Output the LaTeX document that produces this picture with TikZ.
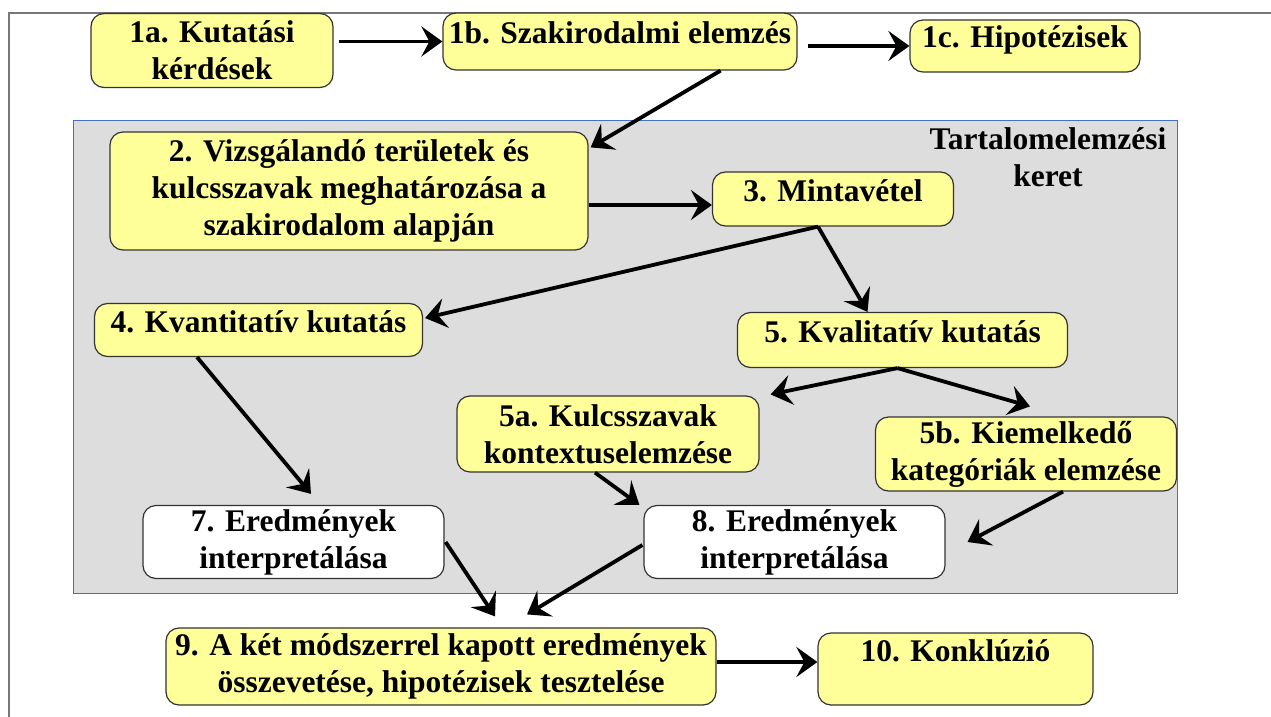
\documentclass[tikz,border=0pt]{standalone}
\usepackage{fontspec}
\setmainfont{Liberation Serif}
\usetikzlibrary{arrows.meta}
\definecolor{boxyellow}{HTML}{FFFF99}
\definecolor{framegray}{HTML}{DDDDDD}
\definecolor{frameblue}{HTML}{4472C4}
\definecolor{edgegray}{HTML}{333333}
\definecolor{pagegray}{HTML}{777777}
\begin{document}
\begin{tikzpicture}[x=1pt, y=-1pt,
    >={Stealth[length=21pt, width=30pt, inset=8pt]},
    box/.style={draw=edgegray, line width=1.2pt, rounded corners=13pt, fill=boxyellow,
      align=center, inner sep=0pt, font=\fontsize{31.5}{37}\selectfont\bfseries},
    single/.style={text height=0.7em, text depth=0.3em},
    whitebox/.style={box, fill=white},
    flow/.style={->, line width=3.8pt}]
  \useasboundingbox (0,0) rectangle (1271,717);
  % page frame and content analysis frame
  \draw[pagegray, line width=1.5pt] (9,740) -- (9,13) -- (1290,13);
  \node[draw=frameblue, fill=framegray, line width=1pt, inner sep=0pt,
    minimum width=1104pt, minimum height=473pt] (frame) at (625,356.5) {};
  \node[anchor=north, align=center, inner sep=0pt,
    font=\fontsize{31.5}{37}\selectfont\bfseries] (framelabel) at (1048,127) {Tartalomelemzési\\keret};

  % boxes
  \node[box, minimum width=242pt, minimum height=74pt] (kerdes) at (212,50.5) {1a. Kutatási\\kérdések};
  \node[box, single, minimum width=354pt, minimum height=57pt] (szakirod) at (620,41.5) {1b. Szakirodalmi elemzés};
  \node[box, single, minimum width=230pt, minimum height=52pt] (hipot) at (1025,46) {1c. Hipotézisek};
  \node[box, minimum width=478pt, minimum height=118pt] (vizsgal) at (349,191) {2. Vizsgálandó területek és\\kulcsszavak meghatározása a\\szakirodalom alapján};
  \node[box, single, minimum width=241pt, minimum height=54pt] (minta) at (833,199) {3. Mintavétel};
  \node[box, single, minimum width=328pt, minimum height=53pt] (kvanti) at (258.5,330) {4. Kvantitatív kutatás};
  \node[box, single, minimum width=330pt, minimum height=55pt] (kvali) at (902.5,340) {5. Kvalitatív kutatás};
  \node[box, minimum width=302pt, minimum height=76pt] (kulcs) at (608,434) {5a. Kulcsszavak\\kontextuselemzése};
  \node[box, minimum width=301pt, minimum height=74pt] (kiemel) at (1026,454) {5b. Kiemelkedő\\kategóriák elemzése};
  \node[whitebox, minimum width=301pt, minimum height=73pt] (ered7) at (293.5,542) {7. Eredmények\\interpretálása};
  \node[whitebox, minimum width=301pt, minimum height=73pt] (ered8) at (794.5,542) {8. Eredmények\\interpretálása};
  \node[box, minimum width=550pt, minimum height=77pt] (osszevet) at (441,666.5) {9. A két módszerrel kapott eredmények\\összevetése, hipotézisek tesztelése};
  \node[box, minimum width=275pt, minimum height=72pt] (konkl) at (955.5,669) {10. Konklúzió\\\mbox{}};

  % arrows
  \coordinate (m3in) at ([yshift=-6pt]minta.west);
  \coordinate (m3out) at ([xshift=-15pt]minta.south);
  \coordinate (k10in) at ([yshift=7pt]konkl.west);
  \draw[flow, shorten <=5pt] (kerdes.east |- szakirod) -- (szakirod.west);
  \draw[flow, shorten <=10pt] (szakirod.east |- hipot) -- (hipot.west);
  \draw[flow] ([xshift=-77pt]szakirod.south east) -- ([xshift=2pt, yshift=-16pt]vizsgal.north east);
  \draw[flow] (m3in -| vizsgal.east) -- (m3in);
  \draw[flow] (m3out) -- ([xshift=2pt, yshift=12pt]kvanti.east);
  \draw[flow] (m3out) -- ([xshift=-35pt]kvali.north);
  \draw[flow] ([xshift=-5pt]kvali.south) -- ([xshift=11pt, yshift=1pt]kulcs.north east);
  \draw[flow] ([xshift=-5pt]kvali.south) -- ([xshift=4pt, yshift=10pt]kiemel.north);
  \draw[flow] ([xshift=-61.5pt]kvanti.south) -- ([xshift=17.5pt, yshift=11pt]ered7.north);
  \draw[flow] ([xshift=-13pt]kulcs.south) -- ([xshift=-4pt]ered8.north west);
  \draw[flow] ([xshift=37pt]kiemel.south) -- ([xshift=22pt]ered8.east);
  \draw[flow] ([xshift=1pt]ered7.east) -- ([xshift=54pt, yshift=11pt]osszevet.north);
  \draw[flow] ([xshift=-1pt, yshift=-3pt]ered8.west) -- ([xshift=86pt, yshift=13pt]osszevet.north);
  \draw[flow] (k10in -| osszevet.east) -- (k10in);
\end{tikzpicture}
\end{document}
